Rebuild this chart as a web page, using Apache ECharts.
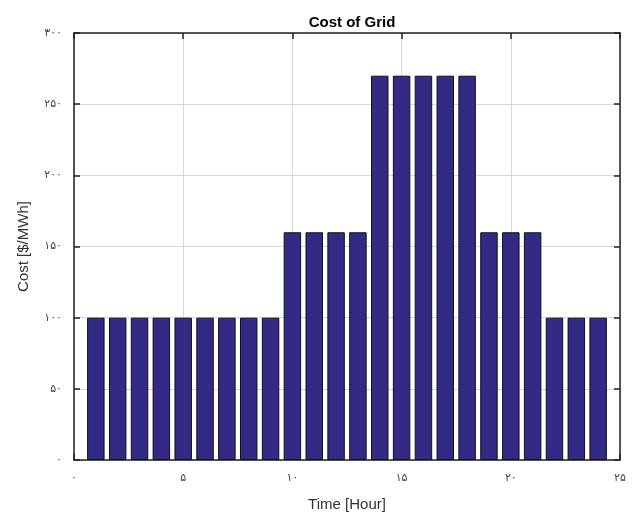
<!DOCTYPE html>
<html>
<head>
<meta charset="utf-8">
<script src="https://cdn.jsdelivr.net/npm/echarts@6/dist/echarts.min.js"></script>
<style>
  html, body { margin: 0; padding: 0; background: #fff; }
  #chart { width: 636px; height: 517px; }
</style>
</head>
<body>
<div id="chart"></div>
<script>
// Hourly grid electricity price
const hours = [1, 2, 3, 4, 5, 6, 7, 8, 9, 10, 11, 12, 13, 14, 15, 16, 17, 18, 19, 20, 21, 22, 23, 24];
const cost = [100, 100, 100, 100, 100, 100, 100, 100, 100, 160, 160, 160, 160, 270, 270, 270, 270, 270, 160, 160, 160, 100, 100, 100];

// Tick labels written with Persian digits
const xTicks = [0, 5, 10, 15, 20, 25];
const xTickLabels = ['۰', '۵', '۱۰', '۱۵', '۲۰', '۲۵'];
const yTicks = [0, 50, 100, 150, 200, 250, 300];
const yTickLabels = ['۰', '۵۰', '۱۰۰', '۱۵۰', '۲۰۰', '۲۵۰', '۳۰۰'];

const fontFamily = 'Arial, "Liberation Sans", "DejaVu Sans", sans-serif';
const labelFont = '"DejaVu Sans", "Noto Sans", sans-serif';

function tickLabel(ticks, labels) {
  return v => {
    const i = ticks.indexOf(v);
    return i >= 0 ? labels[i] : '';
  };
}

const frameLine = { show: true, onZero: false, lineStyle: { color: '#222', width: 1.5 } };
const tickIn = { show: true, inside: true, length: 6, lineStyle: { color: '#222', width: 1.5 } };

const chart = echarts.init(document.getElementById('chart'), null, { renderer: 'canvas' });
chart.setOption({
  animation: false,
  backgroundColor: '#fff',
  title: {
    text: 'Cost of Grid',
    left: 347,
    textAlign: 'center',
    top: 10,
    textStyle: { fontFamily, fontSize: 15, fontWeight: 'bold', color: '#000' }
  },
  grid: { left: 74, right: 16, top: 33, bottom: 53 },
  xAxis: [
    {
      type: 'value', min: 0, max: 25, interval: 5,
      name: 'Time [Hour]', nameLocation: 'middle', nameGap: 37,
      nameTextStyle: { fontFamily, fontSize: 15, color: '#333' },
      axisLine: frameLine, axisTick: tickIn,
      axisLabel: { formatter: tickLabel(xTicks, xTickLabels), margin: 13, fontFamily: labelFont, fontSize: 11, color: '#444' },
      splitLine: { show: true, lineStyle: { color: '#d8d8d8', width: 1 } }
    },
    {
      type: 'value', min: 0, max: 25, interval: 5, position: 'top',
      axisLine: frameLine, axisTick: tickIn, axisLabel: { show: false }, splitLine: { show: false }
    }
  ],
  yAxis: [
    {
      type: 'value', min: 0, max: 300, interval: 50,
      name: 'Cost [$/MWh]', nameLocation: 'middle', nameGap: 43,
      nameTextStyle: { fontFamily, fontSize: 15, color: '#333' },
      axisLine: frameLine, axisTick: tickIn,
      axisLabel: { formatter: tickLabel(yTicks, yTickLabels), margin: 12, fontFamily: labelFont, fontSize: 11, color: '#444' },
      splitLine: { show: true, lineStyle: { color: '#d8d8d8', width: 1 } }
    },
    {
      type: 'value', min: 0, max: 300, interval: 50, position: 'right',
      axisLine: frameLine, axisTick: tickIn, axisLabel: { show: false }, splitLine: { show: false }
    }
  ],
  series: [{
    type: 'bar',
    xAxisIndex: 0, yAxisIndex: 0,
    data: hours.map((h, i) => [h, cost[i]]),
    barWidth: '80%',
    itemStyle: { color: '#332a86', borderColor: '#111', borderWidth: 1 }
  }]
});
</script>
</body>
</html>
